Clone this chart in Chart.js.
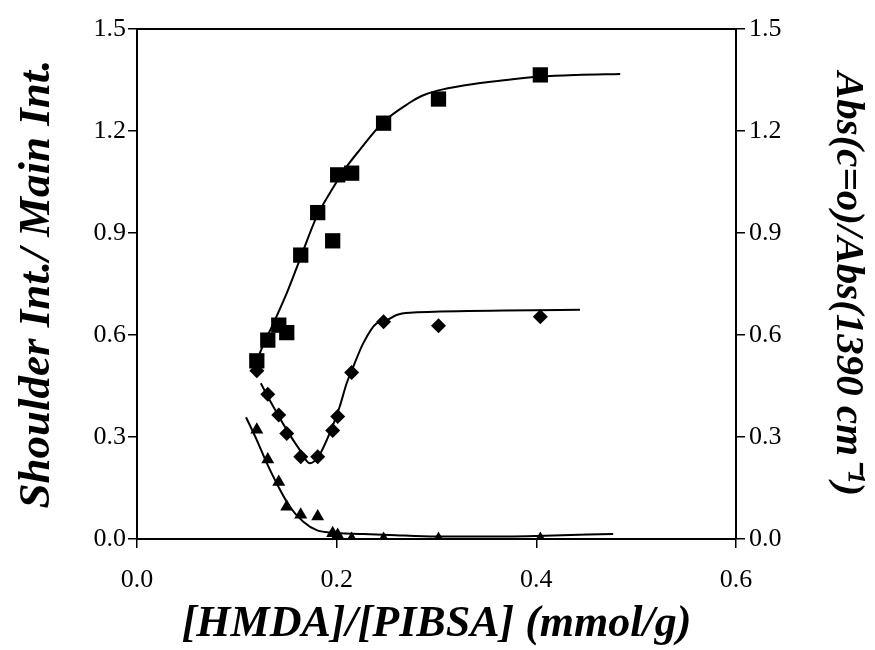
<!DOCTYPE html>
<html>
<head>
<meta charset="utf-8">
<script src="https://cdn.jsdelivr.net/npm/chart.js@4/dist/chart.umd.min.js"></script>
<style>
html,body{margin:0;padding:0;background:#fff;}
#c{display:block;}
</style>
</head>
<body>
<canvas id="c" width="875" height="650"></canvas>
<script>
// ---- data ----
const sampleX   = [0.120, 0.131, 0.142, 0.150, 0.164, 0.181, 0.196, 0.201, 0.215, 0.247, 0.302, 0.404];
const squareY   = [0.524, 0.585, 0.629, 0.607, 0.835, 0.960, 0.877, 1.071, 1.076, 1.223, 1.294, 1.365];
const diamondY  = [0.495, 0.426, 0.365, 0.310, 0.242, 0.242, 0.319, 0.360, 0.490, 0.639, 0.627, 0.654];
const triangleY = [0.321, 0.234, 0.168, 0.095, 0.071, 0.066, 0.017, 0.012, 0.000, 0.000, 0.000, 0.000];

// fitted curves
const squareFitX  = [0.118, 0.123, 0.1366, 0.150, 0.163, 0.180, 0.197, 0.210, 0.223, 0.247, 0.273, 0.285, 0.300, 0.327, 0.370, 0.404, 0.440, 0.484];
const squareFitY  = [0.500, 0.546, 0.634, 0.723, 0.821, 0.948, 1.036, 1.095, 1.144, 1.227, 1.283, 1.303, 1.318, 1.334, 1.350, 1.360, 1.365, 1.368];
const diamondFitX = [0.124, 0.1366, 0.150, 0.163, 0.173, 0.1817, 0.193, 0.203, 0.210, 0.2167, 0.2267, 0.240, 0.247, 0.260, 0.277, 0.3035, 0.4437];
const diamondFitY = [0.458, 0.389, 0.321, 0.262, 0.223, 0.242, 0.311, 0.389, 0.458, 0.507, 0.576, 0.634, 0.639, 0.659, 0.666, 0.669, 0.674];
const triangleFitX = [0.1092, 0.120, 0.130, 0.1416, 0.153, 0.1666, 0.180, 0.193, 0.2267, 0.253, 0.300, 0.350, 0.400, 0.477];
const triangleFitY = [0.358, 0.291, 0.223, 0.154, 0.095, 0.051, 0.026, 0.019, 0.015, 0.012, 0.007, 0.007, 0.009, 0.015];

const xTickValues = [0.0, 0.2, 0.4, 0.6];
const yTickValues = [0.0, 0.3, 0.6, 0.9, 1.2, 1.5];

const xTitle = '[HMDA]/[PIBSA] (mmol/g)';
const yTitle = 'Shoulder Int./ Main Int.';
const y1Title = 'Abs(c=o)/Abs(1390 cm\u207B\u00B9)';

const pts = (xs, ys) => xs.map((x, i) => ({x: x, y: ys[i]}));

const serif = '"Liberation Serif", "Times New Roman", serif';
const tickFont = {family: serif, size: 26};
const xTitleFont = {family: serif, size: 44, weight: 'bold', style: 'italic', lineHeight: 1.15};
const yTitleFont = {family: serif, size: 45, weight: 'bold', style: 'italic'};
const y1TitleFont = {family: serif, size: 41, weight: 'bold', style: 'italic'};

const fitStyle = {showLine: true, pointRadius: 0, borderColor: '#000', borderWidth: 2, backgroundColor: '#000', cubicInterpolationMode: 'monotone', fill: false};

new Chart(document.getElementById('c'), {
  type: 'scatter',
  data: {
    datasets: [
      Object.assign({label: 'fit squares', data: pts(squareFitX, squareFitY), yAxisID: 'y'}, fitStyle),
      Object.assign({label: 'fit diamonds', data: pts(diamondFitX, diamondFitY), yAxisID: 'y1'}, fitStyle),
      Object.assign({label: 'fit triangles', data: pts(triangleFitX, triangleFitY), yAxisID: 'y1'}, fitStyle),
      {label: 'Shoulder/Main', data: pts(sampleX, squareY), yAxisID: 'y', pointStyle: 'rect', pointRadius: 10.8, backgroundColor: '#000', borderColor: '#000', borderWidth: 0, showLine: false},
      {label: 'Abs diamonds', data: pts(sampleX, diamondY), yAxisID: 'y1', pointStyle: 'rectRot', pointRadius: 7.5, backgroundColor: '#000', borderColor: '#000', borderWidth: 0, showLine: false},
      {label: 'Abs triangles', data: pts(sampleX, triangleY), yAxisID: 'y1', pointStyle: 'triangle', pointRadius: 7.5, backgroundColor: '#000', borderColor: '#000', borderWidth: 0, showLine: false}
    ]
  },
  options: {
    responsive: false,
    animation: false,
    devicePixelRatio: 1,
    layout: {padding: {top: 29, left: 0, right: 0, bottom: 0}},
    plugins: {legend: {display: false}, tooltip: {enabled: false}},
    elements: {point: {hoverRadius: 0}},
    scales: {
      x: {
        type: 'linear', position: 'bottom', min: 0, max: 0.6,
        afterFit: s => { s.height = 111; },
        afterBuildTicks: s => { s.ticks = xTickValues.map(v => ({value: v})); },
        border: {display: true, color: '#000', width: 2},
        grid: {display: true, drawOnChartArea: false, drawTicks: true, tickLength: 9, color: '#000', lineWidth: 1.5},
        ticks: {color: '#000', font: tickFont, padding: 17, maxRotation: 0, callback: v => Number(v).toFixed(1)},
        title: {display: true, text: xTitle, color: '#000', font: xTitleFont, padding: {top: 0, bottom: 0}}
      },
      x2: {
        type: 'linear', position: 'top', min: 0, max: 0.6,
        afterFit: s => { s.height = 0; },
        border: {display: true, color: '#000', width: 2},
        grid: {display: false},
        ticks: {display: false}
      },
      y: {
        type: 'linear', position: 'left', min: 0, max: 1.5,
        afterFit: s => { s.width = 137; },
        afterBuildTicks: s => { s.ticks = yTickValues.map(v => ({value: v})); },
        border: {display: true, color: '#000', width: 2},
        grid: {display: true, drawOnChartArea: false, drawTicks: true, tickLength: 9, color: '#000', lineWidth: 1.5},
        ticks: {color: '#000', font: tickFont, padding: 2, callback: v => Number(v).toFixed(1)},
        title: {display: true, text: yTitle, color: '#000', font: yTitleFont, padding: {top: 10, bottom: 0}}
      },
      y1: {
        type: 'linear', position: 'right', min: 0, max: 1.5,
        afterFit: s => { s.width = 139; },
        afterBuildTicks: s => { s.ticks = yTickValues.map(v => ({value: v})); },
        border: {display: true, color: '#000', width: 2},
        grid: {display: true, drawOnChartArea: false, drawTicks: true, tickLength: 9, color: '#000', lineWidth: 1.5},
        ticks: {color: '#000', font: tickFont, padding: 4, callback: v => Number(v).toFixed(1)},
        title: {display: true, text: y1Title, color: '#000', font: y1TitleFont, padding: {top: 3, bottom: 0}}
      }
    }
  }
});
</script>
</body>
</html>
